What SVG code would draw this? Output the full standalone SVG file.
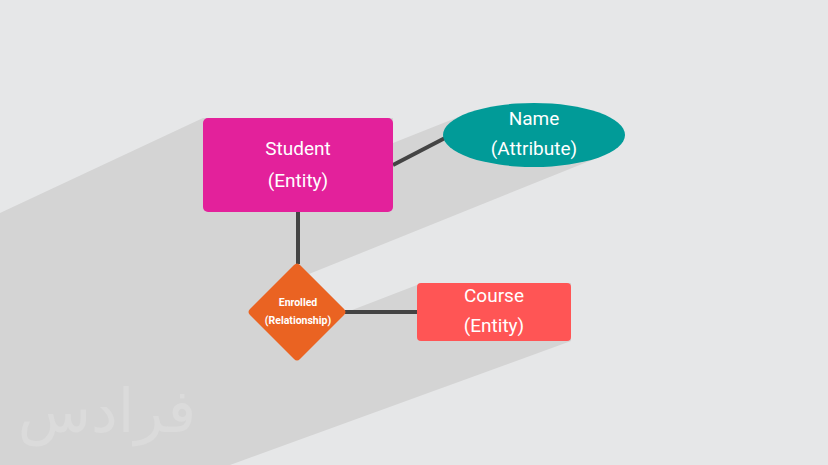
<svg xmlns="http://www.w3.org/2000/svg" width="828" height="465" viewBox="0 0 828 465">
<style>
.lbl{font-family:Roboto,"Liberation Sans",sans-serif;fill:#ffffff;text-anchor:middle}
.big{font-size:19px;font-weight:normal}
.small{font-size:10.5px;font-weight:bold}
.conn{stroke:#444444;stroke-width:4;fill:none}
</style>
<rect x="0" y="0" width="828" height="465" fill="#e6e7e8"/>
<path d="M203,118 L393,118 L393,143 L466,114 L602,156 L309,274 L347,312 L417,285 L571,283 L571,341 L230,465 L0,465 L0,213 Z" fill="#d4d4d4"/>
<text x="107" y="432" font-family="'DejaVu Sans',sans-serif" font-size="60" fill="#dbdbdb" text-anchor="middle">فرادس</text>
<g id="connectors">
<line class="conn" x1="393" y1="165" x2="445" y2="138"/>
<line class="conn" x1="298" y1="212" x2="298" y2="264"/>
<line class="conn" x1="345" y1="312" x2="418" y2="312"/>
</g>
<g id="student">
<rect x="203" y="118" width="190" height="94" rx="5" fill="#e3219b"/>
<text class="lbl big" x="298" y="155">Student</text>
<text class="lbl big" x="298" y="187">(Entity)</text>
</g>
<g id="name">
<ellipse cx="534" cy="135" rx="91" ry="32" fill="#019b98"/>
<text class="lbl big" x="534" y="125">Name</text>
<text class="lbl big" x="534" y="155">(Attribute)</text>
</g>
<g id="enrolled">
<path d="M294,265 Q297,262 300,265 L344,309 Q347,312 344,315 L300,359 Q297,362 294,359 L250,315 Q247,312 250,309 Z" fill="#ea6322"/>
<text class="lbl small" x="298" y="306">Enrolled</text>
<text class="lbl small" x="298" y="324">(Relationship)</text>
</g>
<g id="course">
<rect x="417" y="283" width="154" height="58" rx="4" fill="#ff5555"/>
<text class="lbl big" x="494" y="302">Course</text>
<text class="lbl big" x="494" y="332">(Entity)</text>
</g>
</svg>
